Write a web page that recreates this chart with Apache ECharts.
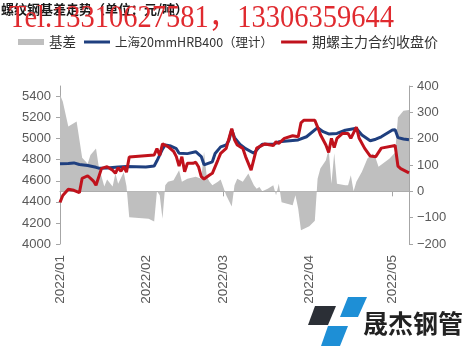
<!DOCTYPE html>
<html>
<head>
<meta charset="utf-8">
<script src="https://cdn.jsdelivr.net/npm/echarts@6/dist/echarts.min.js"></script>
<style>html,body{margin:0;padding:0;background:#fff;}#c{width:468px;height:346px;}</style>
</head>
<body>
<div id="c"></div>
<script>
// ---- data ----
const spotDates = ['2022-01-01','2022-01-04','2022-01-06','2022-01-08','2022-01-11','2022-01-14','2022-01-15','2022-01-18','2022-01-22','2022-01-25','2022-02-01','2022-02-04','2022-02-05','2022-02-07','2022-02-08','2022-02-10','2022-02-12','2022-02-13','2022-02-16','2022-02-19','2022-02-21','2022-02-22','2022-02-25','2022-02-26','2022-02-28','2022-03-02','2022-03-03','2022-03-04','2022-03-05','2022-03-07','2022-03-09','2022-03-12','2022-03-14','2022-03-15','2022-03-19','2022-03-21','2022-03-24','2022-03-28','2022-03-31','2022-04-04','2022-04-06','2022-04-08','2022-04-11','2022-04-14','2022-04-16','2022-04-18','2022-04-20','2022-04-23','2022-04-25','2022-04-27','2022-05-01','2022-05-02','2022-05-03','2022-05-05','2022-05-07'];
const spotValues = [4762,4765,4770,4755,4745,4728,4720,4722,4730,4735,4732,4740,4790,4900,4940,4930,4905,4862,4858,4876,4830,4752,4780,4860,4922,4940,4985,5085,5010,4945,4905,4862,4922,4946,4946,4970,4978,4988,5018,5105,5066,5045,5050,5080,5090,5098,5035,4980,4995,5018,5082,5085,5010,4997,4990];

const futDates = ['2022-01-01','2022-01-02','2022-01-04','2022-01-06','2022-01-08','2022-01-09','2022-01-11','2022-01-13','2022-01-14','2022-01-16','2022-01-18','2022-01-20','2022-01-21','2022-01-22','2022-01-23','2022-01-24','2022-01-25','2022-01-26','2022-02-04','2022-02-05','2022-02-06','2022-02-07','2022-02-09','2022-02-11','2022-02-12','2022-02-13','2022-02-14','2022-02-15','2022-02-16','2022-02-18','2022-02-19','2022-02-20','2022-02-21','2022-02-22','2022-02-24','2022-02-25','2022-02-27','2022-02-28','2022-03-02','2022-03-04','2022-03-05','2022-03-06','2022-03-08','2022-03-09','2022-03-11','2022-03-13','2022-03-16','2022-03-19','2022-03-20','2022-03-21','2022-03-23','2022-03-26','2022-03-28','2022-03-29','2022-03-30','2022-04-03','2022-04-04','2022-04-05','2022-04-07','2022-04-08','2022-04-09','2022-04-10','2022-04-11','2022-04-13','2022-04-15','2022-04-16','2022-04-18','2022-04-19','2022-04-21','2022-04-23','2022-04-25','2022-04-27','2022-05-02','2022-05-03','2022-05-04','2022-05-07'];
const futValues = [4395,4460,4520,4510,4487,4624,4648,4600,4558,4718,4734,4700,4672,4725,4690,4734,4682,4826,4845,4905,4840,4950,4924,4880,4830,4740,4829,4685,4766,4766,4776,4734,4639,4617,4655,4671,4797,4861,4908,5095,4990,4940,4908,4830,4702,4910,4950,4935,4971,4955,5003,5028,5018,5150,5175,5175,5110,5040,4940,4870,5003,4915,5003,5050,5050,5003,5110,5003,4908,4835,4829,4910,4935,4740,4715,4675];

const basisDates = ['2022-01-01','2022-01-02','2022-01-04','2022-01-07','2022-01-09','2022-01-11','2022-01-12','2022-01-14','2022-01-15','2022-01-17','2022-01-18','2022-01-20','2022-01-21','2022-01-22','2022-01-24','2022-01-25','2022-01-26','2022-02-02','2022-02-04','2022-02-05','2022-02-06','2022-02-07','2022-02-08','2022-02-09','2022-02-11','2022-02-13','2022-02-14','2022-02-16','2022-02-19','2022-02-21','2022-02-22','2022-02-23','2022-02-24','2022-02-25','2022-02-27','2022-02-28','2022-03-02','2022-03-04','2022-03-05','2022-03-06','2022-03-08','2022-03-10','2022-03-12','2022-03-13','2022-03-14','2022-03-15','2022-03-17','2022-03-19','2022-03-20','2022-03-21','2022-03-22','2022-03-24','2022-03-26','2022-03-27','2022-03-28','2022-03-29','2022-04-01','2022-04-03','2022-04-04','2022-04-05','2022-04-07','2022-04-08','2022-04-09','2022-04-10','2022-04-11','2022-04-14','2022-04-15','2022-04-16','2022-04-17','2022-04-18','2022-04-20','2022-04-22','2022-04-24','2022-04-25','2022-04-26','2022-04-30','2022-05-02','2022-05-03','2022-05-05','2022-05-07'];
const basisValues = [367,341,246,265,128,105,138,163,93,18,45,18,68,29,72,20,-98,-104,-115,0,-15,-104,23,36,42,80,36,48,55,48,150,55,36,23,36,45,-15,-58,23,48,36,68,23,10,16,0,10,23,-15,29,-41,-47,-53,-15,-66,-148,-133,-112,48,87,118,160,29,145,29,23,23,61,0,36,74,125,144,125,93,125,147,280,306,309];

const leftTicks = [4000,4200,4400,4600,4800,5000,5200,5400];
const rightTicks = [-200,-100,0,100,200,300,400];
const seriesNames = ['基差','上海20mmHRB400（理计）','期螺主力合约收盘价'];
const xStart = '2022-01-01', xEnd = '2022-05-07';

// ---- chart ----
const zip = (d, v) => d.map((x, i) => [x, v[i]]);
const toTime = s => { const p = s.split('-').map(Number); return new Date(p[0], p[1]-1, p[2]).getTime(); };
const FONT = '"Liberation Sans", Arial, "Noto Sans CJK SC", sans-serif';
const CJK = '"Noto Sans CJK SC", sans-serif';
const axisColor = '#a6a6a6';
const labelColor = '#595959';
const lineIcon = 'path://M0,0 L26,0 L26,3 L0,3 Z';

const chart = echarts.init(document.getElementById('c'), null, {renderer: 'canvas'});
chart.setOption({
  animation: false,
  backgroundColor: '#ffffff',
  title: {
    text: '螺纹钢基差走势（单位：元/吨）',
    left: 1, top: 3, padding: 0,
    textStyle: {fontFamily: CJK, fontSize: 13, fontWeight: 'bold', color: '#1a1a1a'}
  },
  legend: {
    left: 18, top: 35, width: 450, padding: 0,
    itemWidth: 26, itemHeight: 6, itemGap: 8,
    textStyle: {fontFamily: CJK, fontSize: 13.5, color: '#333'},
    data: [
      {name: seriesNames[0], icon: 'rect', textStyle: {fontSize: 13.5}},
      {name: seriesNames[1], icon: lineIcon, textStyle: {fontSize: 12.5}},
      {name: seriesNames[2], icon: lineIcon, textStyle: {fontSize: 14}}
    ]
  },
  grid: {left: 60, right: 59, top: 86, bottom: 102},
  xAxis: {
    type: 'time',
    min: toTime(xStart), max: toTime(xEnd),
    splitNumber: 5,
    axisLine: {show: true, lineStyle: {color: axisColor}},
    axisTick: {show: true, length: 5, lineStyle: {color: axisColor}},
    splitLine: {show: false},
    axisLabel: {rotate: 90, margin: 11, formatter: '{yyyy}/{MM}', fontFamily: FONT, fontSize: 13.5, color: labelColor, hideOverlap: false}
  },
  yAxis: [
    {
      type: 'value', min: 4000, max: 5500, interval: 200, position: 'left',
      axisLine: {show: true, lineStyle: {color: axisColor}},
      axisTick: {show: true, length: 4, lineStyle: {color: axisColor}, customValues: leftTicks},
      splitLine: {show: false},
      axisLabel: {margin: 9, fontFamily: FONT, fontSize: 13, color: labelColor, customValues: leftTicks,
        formatter: v => String(v)}
    },
    {
      type: 'value', min: -200, max: 400, interval: 100, position: 'right',
      axisLine: {show: true, lineStyle: {color: axisColor}},
      axisTick: {show: true, length: 4, lineStyle: {color: axisColor}},
      splitLine: {show: false},
      axisLabel: {margin: 8, fontFamily: FONT, fontSize: 13, color: labelColor,
        formatter: v => (v < 0 ? '\u2212' + Math.abs(v) : String(v))}
    }
  ],
  series: [
    {
      name: seriesNames[0], type: 'line', yAxisIndex: 1,
      data: zip(basisDates, basisValues),
      symbol: 'none', itemStyle: {color: '#bfbfbf'},
      lineStyle: {width: 0, color: '#bfbfbf'},
      areaStyle: {color: '#bfbfbf', opacity: 1},
      z: 1
    },
    {
      name: seriesNames[1], type: 'line', yAxisIndex: 0,
      data: zip(spotDates, spotValues),
      symbol: 'none', itemStyle: {color: '#1f3f7f'},
      lineStyle: {width: 3, color: '#1f3f7f'},
      z: 2
    },
    {
      name: seriesNames[2], type: 'line', yAxisIndex: 0,
      data: zip(futDates, futValues),
      symbol: 'none', itemStyle: {color: '#c0121c'},
      lineStyle: {width: 3, color: '#c0121c'},
      z: 3
    }
  ],
  graphic: [
    {
      type: 'text', x: 9, y: 34, scaleY: 1.1, z: 100,
      style: {text: 'Tel.13310627581，13306359644', fill: '#e02a2f', font: '28.5px "Liberation Serif", "Noto Sans CJK SC", serif', textVerticalAlign: 'bottom'}
    },
    {type: 'polygon', z: 100, shape: {points: [[315,306],[336,306],[328,325],[308,325]]}, style: {fill: '#2b2f36'}},
    {type: 'polygon', z: 100, shape: {points: [[348,297],[367,297],[358,317],[340,317]]}, style: {fill: '#1e8fd6'}},
    {type: 'polygon', z: 100, shape: {points: [[328,326],[348,326],[340,346],[321,346]]}, style: {fill: '#1e8fd6'}},
    {
      type: 'text', x: 363, y: 323, z: 100,
      style: {text: '晟杰钢管', fill: '#222', font: 'bold 25px "Noto Sans CJK SC", sans-serif', textVerticalAlign: 'middle'}
    }
  ]
});
</script>
</body>
</html>
